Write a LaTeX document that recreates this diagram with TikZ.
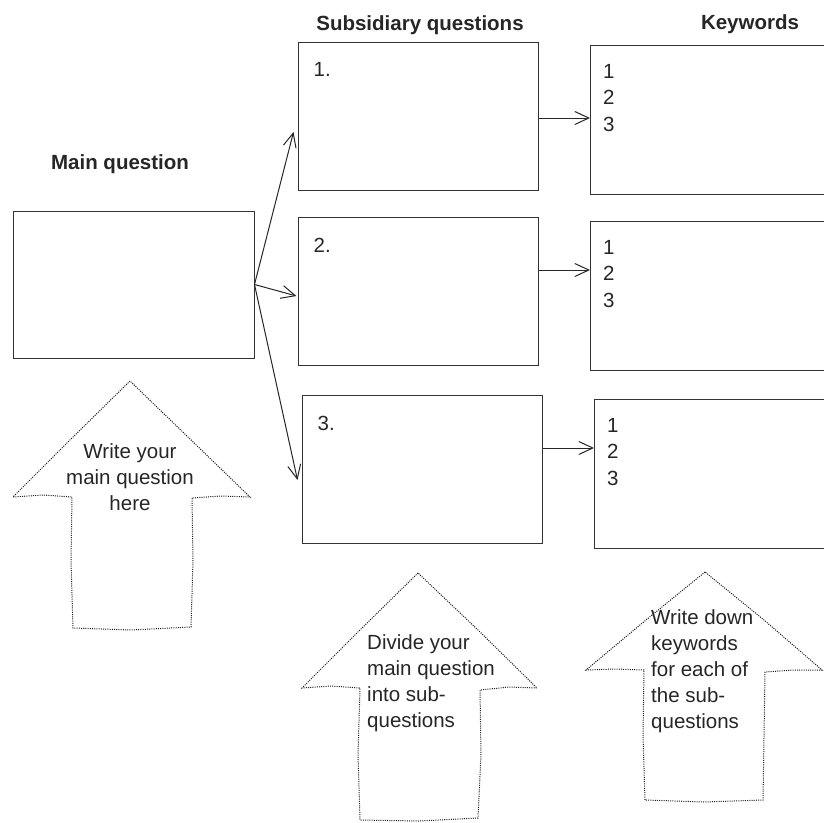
\documentclass[tikz,border=0pt]{standalone}
\usepackage{fontspec}
\setmainfont{Liberation Sans}
\usetikzlibrary{arrows.meta}

\begin{document}
\begin{tikzpicture}[x=1pt,y=-1pt,
    box/.style={draw=black!80,line width=1pt,inner sep=0pt},
    arrowLine/.style={draw=black!85,line width=1pt,-{Straight Barb[length=14pt,width=13pt]}},
    dotLine/.style={draw=black!90,line width=1pt,dash pattern=on 1pt off 1.2pt},
    txt/.style={font=\fontsize{20.5}{26}\selectfont,text=black!85,inner sep=0pt},
    title/.style={font=\fontsize{20.5}{26}\selectfont\bfseries,text=black!85,inner sep=0pt}]
    \clip (0,0) rectangle (824,822);
    \node[title] (mainTitle) at (120,164) {Main question};
    \node[title] (subTitle) at (420,25) {Subsidiary questions};
    \node[title] (keyTitle) at (750,24) {Keywords};
    \node[box,minimum width=241pt,minimum height=147pt] (mainBox) at (133.5,284.5) {};
    \foreach \n/\sx/\sy/\kx/\ky/\ay in {1/418/116/590/120/118, 2/418/291/590/296/270, 3/422/469/594/474/448}{
        \node[box,minimum width=240pt,minimum height=148pt] (subBox\n) at (\sx,\sy) {};
        \node[box,anchor=west,minimum width=260pt,minimum height=149pt] (keyBox\n) at (\kx,\ky) {};
        \node[txt,anchor=north west] (subNum\n) at ([xshift=16pt,yshift=-21pt]subBox\n.north west) {\n.};
        \node[txt,anchor=north west,align=left] (keyList\n) at ([xshift=13pt,yshift=-19pt]keyBox\n.north west) {1\\[0.5pt]2\\[0.5pt]3};
        \coordinate (level\n) at (0,\ay);
        \draw[arrowLine] (subBox\n.east |- level\n) -- (keyBox\n.west |- level\n);
    }
    \draw[arrowLine] (mainBox.east) -- ([xshift=-4pt,yshift=-16pt]subBox1.west);
    \draw[arrowLine] (mainBox.east) -- ([xshift=-1pt,yshift=-5pt]subBox2.west);
    \draw[arrowLine] (mainBox.east) -- ([xshift=-4pt,yshift=-11pt]subBox3.west);
    \draw[dotLine] (130,381) -- (71,439) -- (13,497) -- (43,495) -- (72,497) -- (71,562) -- (73,628)
        -- (131,630) -- (191,627) -- (193,561) -- (192,498) -- (221,496) -- (250,497) -- (189,438) -- cycle;
    \draw[dotLine] (418,573) -- (361,629) -- (302,688) -- (331,686) -- (360,688) -- (358,754) -- (360,820)
        -- (419,821) -- (478,818) -- (481,754) -- (480,690) -- (509,687) -- (537,688) -- (478,630) -- cycle;
    \draw[dotLine] (705,572) -- (646,620) -- (586,670) -- (615,669) -- (644,670) -- (643,736) -- (645,800)
        -- (704,802) -- (763,800) -- (764,736) -- (765,672) -- (794,670) -- (822,670) -- (764,620) -- cycle;
    \node[txt,align=center] (noteMain) at (130,477) {Write your\\main question\\here};
    \node[txt,align=left,anchor=west] (noteSub) at (367,683) {Divide your\\main question\\into sub-\\questions};
    \node[txt,align=left,anchor=west] (noteKey) at (651,671) {Write down\\keywords\\for each of\\the sub-\\questions};
\end{tikzpicture}
\end{document}
